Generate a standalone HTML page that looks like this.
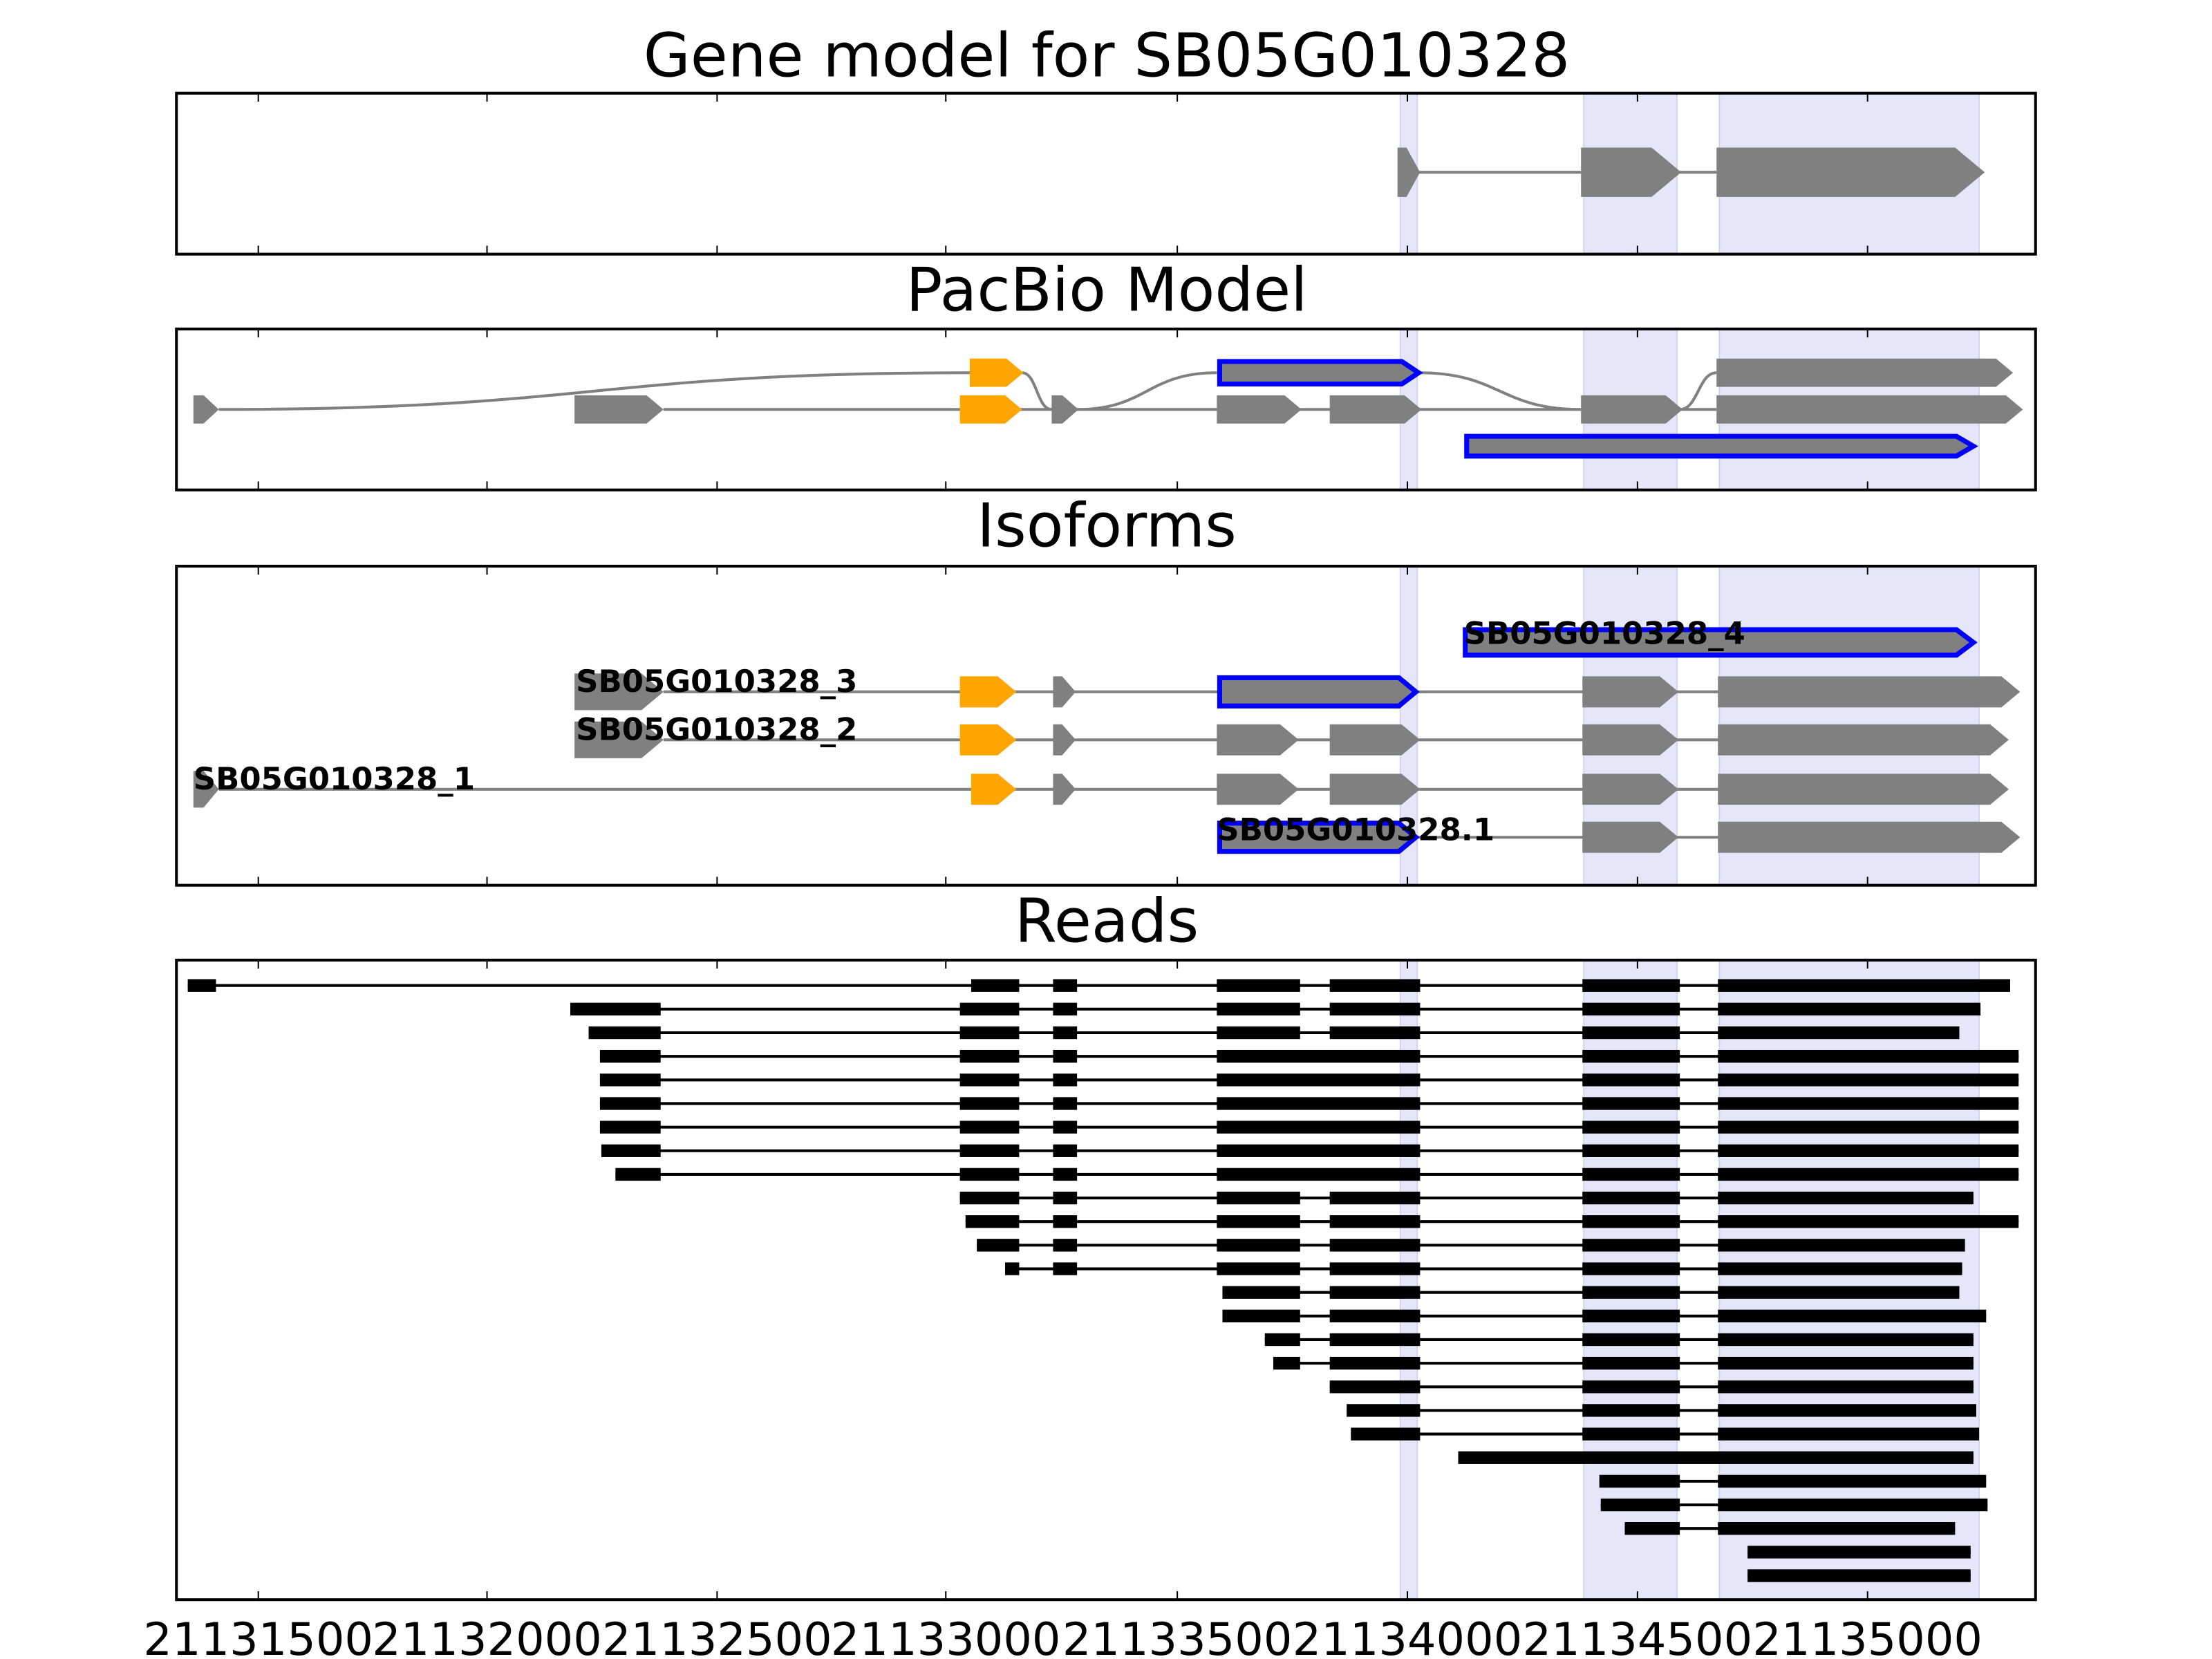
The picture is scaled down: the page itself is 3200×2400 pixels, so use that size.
<!DOCTYPE html>
<html><head><meta charset="utf-8"><style>
html,body{margin:0;padding:0;background:#fff;}
svg{display:block;}
text{font-family:"DejaVu Sans","Liberation Sans",sans-serif;}
</style></head><body>
<svg id="s" width="3200" height="2400" viewBox="0 0 1567 1175" preserveAspectRatio="none" xmlns="http://www.w3.org/2000/svg"></svg>
<script>
const s=document.getElementById('s');let h='';
const L=125,R=1442;
const panels=[[66,180],[233,347],[401,627],[680,1133]];
const titles=[["Gene model for SB05G010328",40],["PacBio Model",206],["Isoforms",373],["Reads",653]];
const ticks=[183,345,508,670,834,997,1160,1323];
const spans=[[992,1004],[1122,1188],[1218,1402]];
panels.forEach(p=>spans.forEach(sp=>{h+=`<rect x="${sp[0]}" y="${p[0]}" width="${sp[1]-sp[0]}" height="${p[1]-p[0]}" fill="#e6e6fa" stroke="#d4d4f0" stroke-width="1"/>`;}));
function ex(x1,x2,y,hh,fill,stroke,pt){
  pt=pt==null?Math.min(hh*0.6,(x2-x1)*0.6):pt;
  const a=y-hh/2,b=y+hh/2;
  let st=stroke?`stroke="${stroke}" stroke-width="3.5"`:'';
  h+=`<polygon points="${x1},${a} ${x2-pt},${a} ${x2},${y} ${x2-pt},${b} ${x1},${b}" fill="${fill}" ${st}/>`;
}
function ln(x1,x2,y,c,w){h+=`<line x1="${x1}" y1="${y}" x2="${x2}" y2="${y}" stroke="${c||'#808080'}" stroke-width="${w||2}"/>`;}
function cv(x1,y1,x2,y2){const m=(x1+x2)/2;h+=`<path d="M${x1},${y1} C${m},${y1} ${m},${y2} ${x2},${y2}" fill="none" stroke="#808080" stroke-width="2"/>`;}
const G='#808080',O='#ffa500',B='#0000ff';
ln(1005,1120,122);ln(1190,1216,122);
ex(990,1006,122,35,G);ex(1120,1191,122,35,G);ex(1216,1406,122,35,G);
cv(155,290,687,264);cv(724,264,745,290);cv(763,290,862,264);cv(1005,264,1120,290);cv(1190,290,1216,264);
ln(470,1120,290);ln(1190,1216,290);
ex(137,155,290,20,G);ex(407,470,290,20,G);ex(680,724,290,20,O);ex(745,764,290,20,G);
ex(862,922,290,20,G);ex(942,1007,290,20,G);ex(1120,1192,290,20,G);ex(1216,1433,290,20,G);
ex(687,725,264,20,O);ex(864,1005,264,16,G,B,12);ex(1216,1426,264,20,G);
ex(1039,1398,316,14,G,B,12);
function lab(t,x,y){h+=`<text x="${x}" y="${y}" font-size="22" font-weight="bold" fill="#000">${t}</text>`;}
ex(1038,1398,455,18,G,B,12);
ln(470,1430,490);ex(407,470,490,26,G);ex(680,720,490,22,O);ex(746,762,490,22,G);ex(864,1003,490,20,G,B,12);ex(1121,1189,490,22,G);ex(1217,1431,490,22,G);
ln(470,1422,524);ex(407,470,524,26,G);ex(680,720,524,22,O);ex(746,762,524,22,G);ex(862,920,524,22,G);ex(942,1006,524,22,G);ex(1121,1189,524,22,G);ex(1217,1423,524,22,G);
ln(155,1422,559);ex(137,155,559,26,G);ex(688,720,559,22,O);ex(746,762,559,22,G);ex(862,920,559,22,G);ex(942,1006,559,22,G);ex(1121,1189,559,22,G);ex(1217,1423,559,22,G);
ln(1003,1430,593);ex(864,1003,593,20,G,B,12);ex(1121,1189,593,22,G);ex(1217,1431,593,22,G);
lab("SB05G010328_4",1037,456);lab("SB05G010328_3",408,490);lab("SB05G010328_2",408,524);lab("SB05G010328_1",137,559);lab("SB05G010328.1",862,595);
const A=[688,722],Bq=[746,763],C=[862,921],D=[942,1006],CD=[862,1006],E=[1121,1190];
const rows=[
[[133,153],A,Bq,C,D,E,[1217,1424]],
[[404,468],[680,722],Bq,C,D,E,[1217,1403]],
[[417,468],[680,722],Bq,C,D,E,[1217,1388]],
[[425,468],[680,722],Bq,CD,E,[1217,1430]],
[[425,468],[680,722],Bq,CD,E,[1217,1430]],
[[425,468],[680,722],Bq,CD,E,[1217,1430]],
[[425,468],[680,722],Bq,CD,E,[1217,1430]],
[[426,468],[680,722],Bq,CD,E,[1217,1430]],
[[436,468],[680,722],Bq,CD,E,[1217,1430]],
[[680,722],Bq,C,D,E,[1217,1398]],
[[684,722],Bq,C,D,E,[1217,1430]],
[[692,722],Bq,C,D,E,[1217,1392]],
[[712,722],Bq,C,D,E,[1217,1390]],
[[866,921],D,E,[1217,1388]],
[[866,921],D,E,[1217,1407]],
[[896,921],D,E,[1217,1398]],
[[902,921],D,E,[1217,1398]],
[D,E,[1217,1398]],
[[954,1006],E,[1217,1400]],
[[957,1006],E,[1217,1402]],
[[1033,1398]],
[[1133,1190],[1217,1407]],
[[1134,1190],[1217,1408]],
[[1151,1190],[1217,1385]],
[[1238,1396]],
[[1238,1396]]];
rows.forEach((r,i)=>{const y=698+i*16.72;
 ln(r[0][0],r[r.length-1][1],y,'#000',2);
 r.forEach(g=>{h+=`<rect x="${g[0]}" y="${y-4.5}" width="${g[1]-g[0]}" height="9" fill="#000"/>`;});});
panels.forEach(p=>{
 ticks.forEach(t=>{h+=`<line x1="${t}" y1="${p[1]}" x2="${t}" y2="${p[1]-6}" stroke="#000" stroke-width="1"/><line x1="${t}" y1="${p[0]}" x2="${t}" y2="${p[0]+6}" stroke="#000" stroke-width="1"/>`;});
 h+=`<rect x="${L}" y="${p[0]}" width="${R-L}" height="${p[1]-p[0]}" fill="none" stroke="#000" stroke-width="2"/>`;});
titles.forEach(t=>{h+=`<text x="784" y="${t[1]+14}" font-size="43" text-anchor="middle" fill="#000">${t[0]}</text>`;});
const tl=["21131500","21132000","21132500","21133000","21133500","21134000","21134500","21135000"];
ticks.forEach((t,i)=>{h+=`<text x="${t}" y="1172" font-size="32" text-anchor="middle" fill="#000">${tl[i]}</text>`;});
s.innerHTML=h;
</script>
</body></html>
